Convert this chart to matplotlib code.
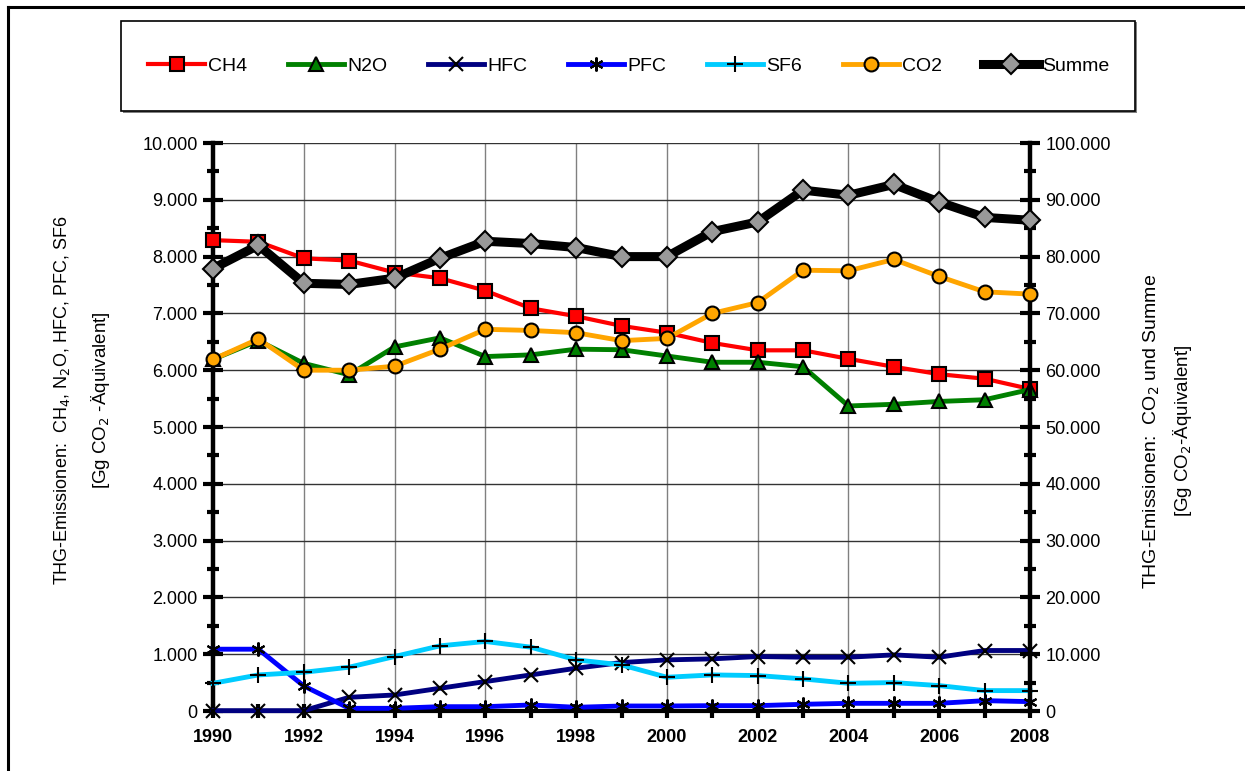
import numpy as np
import matplotlib
matplotlib.use('Agg')
import matplotlib.pyplot as plt
from matplotlib.lines import Line2D
from matplotlib.patches import Rectangle
from matplotlib.ticker import MultipleLocator, FixedLocator

plt.rcParams['font.family'] = ['Liberation Sans Narrow', 'Liberation Sans', 'DejaVu Sans']

# Daten (Gg CO2-Äquivalent)
jahre = list(range(1990, 2009))
ch4 = [8290, 8260, 7970, 7930, 7720, 7620, 7400, 7090, 6950, 6780, 6660, 6480,
       6350, 6350, 6200, 6060, 5930, 5850, 5670]
n2o = [6190, 6520, 6120, 5920, 6410, 6570, 6240, 6270, 6370, 6360, 6250, 6140,
       6140, 6060, 5370, 5400, 5450, 5480, 5660]
hfc = [6, 6, 6, 241, 282, 400, 518, 635, 753, 853, 900, 918, 959, 947, 947, 988,
       947, 1065, 1065]
pfc = [1088, 1088, 441, 47, 47, 76, 76, 106, 65, 88, 88, 94, 94, 118, 135, 135,
       135, 182, 165]
sf6 = [488, 635, 682, 771, 959, 1147, 1224, 1124, 900, 812, 594, 635, 624, 565,
       488, 500, 447, 359, 359]
co2 = [61900, 65500, 60000, 60000, 60700, 63700, 67200, 67000, 66600, 65200,
       65600, 70000, 71900, 77600, 77500, 79500, 76500, 73800, 73400]
summe = [77900, 82000, 75300, 75100, 76200, 79700, 82700, 82300, 81600, 80000,
         80000, 84400, 86100, 91700, 90800, 92700, 89600, 86900, 86400]

links_ticks = [0, 1000, 2000, 3000, 4000, 5000, 6000, 7000, 8000, 9000, 10000]
links_labels = ['0', '1.000', '2.000', '3.000', '4.000', '5.000', '6.000',
                '7.000', '8.000', '9.000', '10.000']
rechts_ticks = [0, 10000, 20000, 30000, 40000, 50000, 60000, 70000, 80000,
                90000, 100000]
rechts_labels = ['0', '10.000', '20.000', '30.000', '40.000', '50.000',
                 '60.000', '70.000', '80.000', '90.000', '100.000']
x_ticks = list(range(1990, 2009, 2))

fig = plt.figure(figsize=(12.45, 7.71), dpi=100)
ax = fig.add_axes([213 / 1245, 60 / 771, (1030 - 213) / 1245, (711 - 143) / 771])
ax2 = ax.twinx()

ms = 10
ax.plot(jahre, ch4, color='#ff0000', lw=3, marker='s', ms=ms, mfc='#ff0000',
        mec='black', mew=1.5, clip_on=False, label='CH4', zorder=3)
ax.plot(jahre, n2o, color='#008000', lw=3.5, marker='^', ms=ms, mfc='#008000',
        mec='black', mew=1.5, clip_on=False, label='N2O', zorder=3)
ax.plot(jahre, hfc, color='#000080', lw=3.5, marker='x', ms=ms, mec='black',
        mew=1.5, clip_on=False, label='HFC', zorder=3)
ax.plot(jahre, pfc, color='#0000ff', lw=3.5, marker=(6, 2, 0), ms=ms, mec='black',
        mew=1.5, clip_on=False, label='PFC', zorder=3)
ax.plot(jahre, sf6, color='#00ccff', lw=3.5, marker='+', ms=ms + 2, mec='black',
        mew=1.5, clip_on=False, label='SF6', zorder=3)
ax2.plot(jahre, co2, color='#ffa500', lw=3.5, marker='o', ms=ms, mfc='#ffa500',
         mec='black', mew=1.5, clip_on=False, label='CO2', zorder=3)
ax2.plot(jahre, summe, color='black', lw=6.5, marker='D', ms=ms, mfc='#999999',
         mec='black', mew=1.5, clip_on=False, label='Summe', zorder=4)

ax.set_xlim(1990, 2008)
ax.set_ylim(0, 10000)
ax2.set_ylim(0, 100000)

ax.yaxis.set_major_locator(FixedLocator(links_ticks))
ax.set_yticklabels(links_labels)
ax.yaxis.set_minor_locator(MultipleLocator(500))
ax2.yaxis.set_major_locator(FixedLocator(rechts_ticks))
ax2.set_yticklabels(rechts_labels)
ax2.yaxis.set_minor_locator(MultipleLocator(5000))
ax.set_xticks(x_ticks)
ax.set_xticklabels([str(j) for j in x_ticks], fontweight='bold')
ax.xaxis.set_minor_locator(MultipleLocator(1))

ax.grid(True, axis='y', color='#333333', lw=1)
ax.grid(True, axis='x', color='#808080', lw=1)
ax.set_axisbelow(True)

for a in (ax, ax2):
    a.spines['top'].set_visible(False)
ax.spines['right'].set_visible(False)
ax2.spines['left'].set_visible(False)
ax2.spines['bottom'].set_visible(False)
ax.spines['left'].set_linewidth(3.2)
ax2.spines['right'].set_linewidth(3.2)
ax.spines['bottom'].set_linewidth(3)

ax.tick_params(axis='y', which='major', direction='inout', length=14, width=3,
               labelsize=13, pad=4)
ax.tick_params(axis='y', which='minor', direction='inout', length=8, width=3)
ax2.tick_params(axis='y', which='major', direction='inout', length=14, width=3,
                labelsize=13, pad=4)
ax2.tick_params(axis='y', which='minor', direction='inout', length=8, width=3)
ax.tick_params(axis='x', which='both', direction='inout', length=10, width=3,
               labelsize=13, pad=8)

fig.text(62 / 1245, 1 - 400 / 771,
         'THG-Emissionen:  CH$_4$, N$_2$O, HFC, PFC, SF6',
         rotation=90, ha='center', va='center', fontsize=13)
fig.text(100 / 1245, 1 - 400 / 771, '[Gg CO$_2$ -Äquivalent]',
         rotation=90, ha='center', va='center', fontsize=13.5)
fig.text(1152 / 1245, 1 - 431 / 771, 'THG-Emissionen:  CO$_2$ und Summe',
         rotation=90, ha='center', va='center', fontsize=14)
fig.text(1183 / 1245, 1 - 431 / 771, '[Gg CO$_2$-Äquivalent]',
         rotation=90, ha='center', va='center', fontsize=13.5)

# Legendenrahmen mit Schatten
fig.add_artist(Rectangle((123 / 1245, 1 - 113 / 771), 1014 / 1245, 91 / 771,
                         transform=fig.transFigure, facecolor='#808080',
                         edgecolor='none', zorder=0))
fig.add_artist(Rectangle((121 / 1245, 1 - 111 / 771), 1014 / 1245, 90 / 771,
                         transform=fig.transFigure, facecolor='white',
                         edgecolor='black', lw=1.2, zorder=1))
h1, l1 = ax.get_legend_handles_labels()
h2, l2 = ax2.get_legend_handles_labels()
leg = fig.legend(h1 + h2, l1 + l2, loc='center', ncol=7,
                 bbox_to_anchor=(629 / 1245, 1 - 66 / 771),
                 frameon=False, fontsize=14, handlelength=2.9,
                 handletextpad=0.15, columnspacing=2.1)
leg.set_zorder(2)

# Rahmen oben und links
fig.add_artist(Line2D([8 / 1245, 1], [1 - 7 / 771, 1 - 7 / 771], color='black',
                      lw=2.2, transform=fig.transFigure))
fig.add_artist(Line2D([8 / 1245, 8 / 1245], [0, 1 - 7 / 771], color='black',
                      lw=2.2, transform=fig.transFigure))

fig.savefig('out.png', dpi=100)
